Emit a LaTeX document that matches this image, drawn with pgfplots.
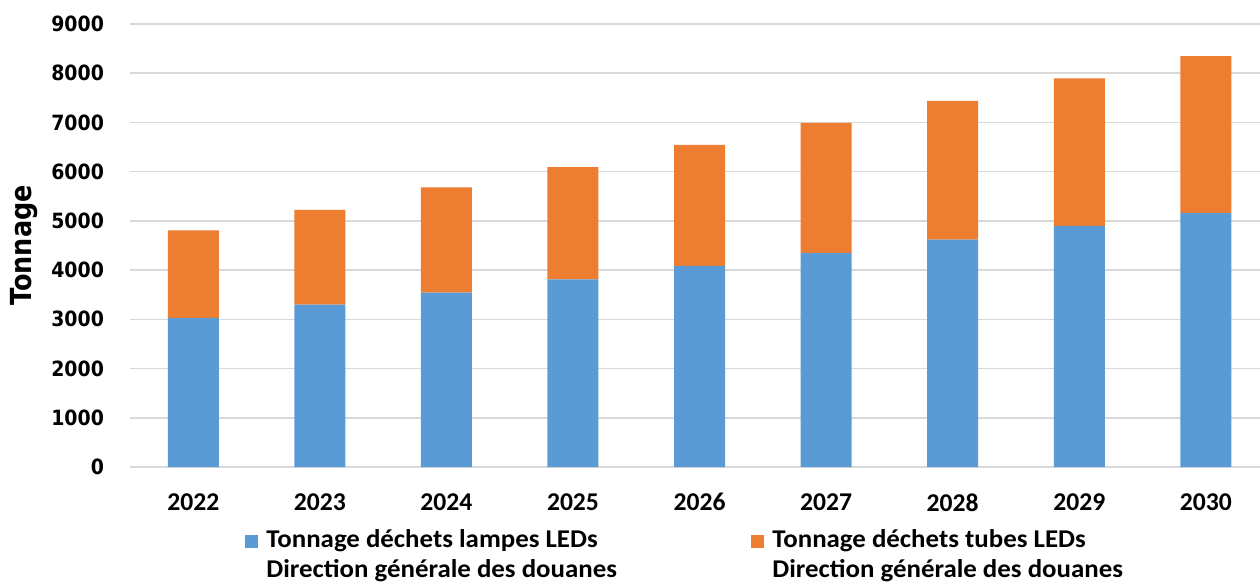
\documentclass[border=0pt]{standalone}
\usepackage{pgfplots}
\pgfplotsset{compat=1.18}
\usepackage{fontspec}
\setmainfont{Carlito}
\newfontfamily\dejavutick[FakeStretch=0.9]{DejaVu Sans}
\newfontfamily\dejavulab[FakeStretch=0.88]{DejaVu Sans}
\newfontfamily\legfont[FakeStretch=1.05]{Carlito}
\definecolor{cblue}{RGB}{91,155,213}
\definecolor{corange}{RGB}{237,125,49}
\definecolor{cgrid}{RGB}{217,217,217}
\begin{document}
\begin{tikzpicture}
\begin{axis}[
 name=ax,
 scale only axis, width=565pt, height=221.5pt,
 ybar stacked, bar width=25.5pt,
 xmin=-0.5, xmax=8.428, ymin=0, ymax=9000,
 xtick={0,1,2,3,4,5,6,7,8},
 xticklabels={2022,2023,2024,2025,2026,2027,2028,2029,2030},
 ytick={0,1000,2000,3000,4000,5000,6000,7000,8000,9000},
 major tick length=0pt,
 axis line style={draw=none},
 ymajorgrids, grid style={cgrid, line width=0.75pt},
 /pgf/number format/assume math mode=true,
 /pgf/number format/1000 sep={},
 yticklabel style={font=\dejavutick\bfseries\fontsize{10.5}{12}\selectfont, xshift=-9.5pt},
 xticklabel style={font=\bfseries\fontsize{12.8}{15}\selectfont, yshift=-9.7pt},
 ylabel={Tonnage},
 ylabel style={font=\dejavulab\bfseries\fontsize{14.5}{16}\selectfont},
 ylabel shift=0pt,
 legend columns=2,
 legend cell align=left,
 legend style={at={(rel axis cs:0,0)}, anchor=north west, xshift=57.5pt, yshift=-31.2pt,
   draw=none, fill=none, inner sep=0pt, row sep=3pt,
   font=\legfont\bfseries\fontsize{12.8}{15}\selectfont,
   nodes={inner ysep=0pt, text height=9pt, text depth=3pt}},
 legend image code/.code={\fill[#1] (0pt,-3.25pt) rectangle (6.5pt,3.25pt); \path (8.5pt,0pt);},
]
\addplot+[fill=cblue, draw=none] coordinates {(0,3030) (1,3300) (2,3545) (3,3810) (4,4085) (5,4350) (6,4620) (7,4900) (8,5165)};
\addlegendentry{\makebox[240.5pt][l]{Tonnage déchets lampes LEDs}}
\addplot+[fill=corange, draw=none] coordinates {(0,1775) (1,1925) (2,2135) (3,2280) (4,2460) (5,2640) (6,2820) (7,2995) (8,3185)};
\addlegendentry{Tonnage déchets tubes LEDs}
\addlegendimage{empty legend}
\addlegendentry{\makebox[240.5pt][l]{Direction générale des douanes}}
\addlegendimage{empty legend}
\addlegendentry{Direction générale des douanes}
\end{axis}
\pgfresetboundingbox
\path (ax.south west) ++(-65pt,-59pt) rectangle ++(630pt,292.5pt);
\end{tikzpicture}
\end{document}
